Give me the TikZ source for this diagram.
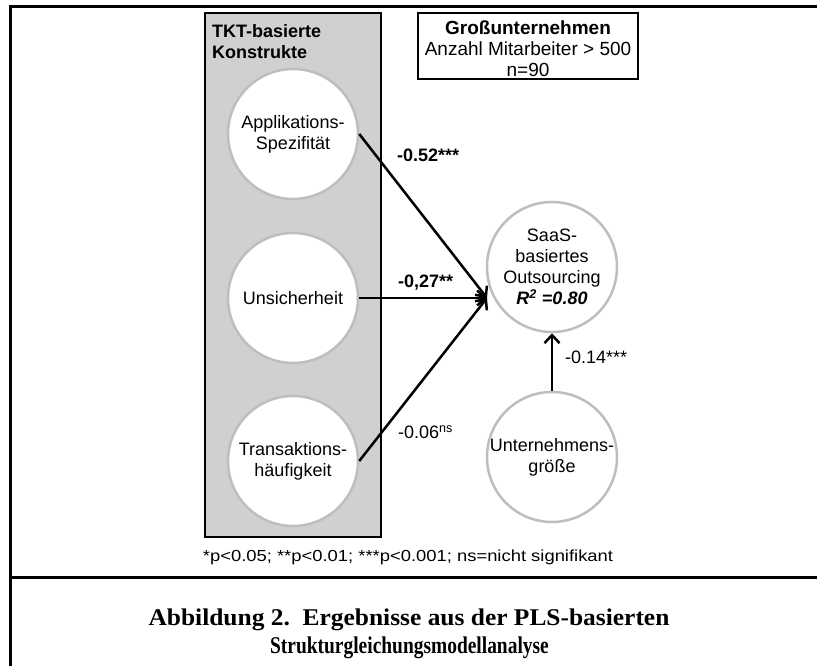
\documentclass[tikz,border=0pt]{standalone}
\usepackage{fontspec}
\setmainfont{Liberation Sans}
\newfontfamily\capfont{Liberation Serif}
\usetikzlibrary{arrows.meta}
\definecolor{boxgray}{RGB}{208,208,208}
\definecolor{ringgray}{RGB}{190,190,190}
\begin{document}
\begin{tikzpicture}[x=1pt,y=-1pt,
  construct/.style={circle, draw=ringgray, line width=2.5pt, fill=white,
    minimum size=130pt, inner sep=0pt, align=center,
    font=\fontsize{18}{21}\selectfont},
  effect/.style={line width=2.5pt,
    -{Straight Barb[length=8pt,width=15pt,line width=2.5pt]}},
  coef/.style={anchor=west, inner sep=0pt, font=\fontsize{18}{21}\selectfont},
  capline/.style={inner sep=0pt, font=\capfont\bfseries\fontsize{24}{28}\selectfont},
  frameline/.style={line width=3pt, black}]
\useasboundingbox (0,0) rectangle (817,666);
\fill[white] (0,0) rectangle (817,666);
% outer frame
\draw[frameline] (10.5,666) -- (10.5,7) -- (817,7);
\draw[frameline] (10.5,577) -- (817,577);
% grey group box
\draw[fill=boxgray, draw=black, line width=1.2pt] (205,13) rectangle (381,537);
\node[anchor=north west, inner sep=0pt, align=left,
  font=\fontsize{18}{21}\selectfont\bfseries] (grp) at (212,24) {TKT-basierte\\Konstrukte};
% sample box
\node[draw=black, line width=1.2pt, minimum width=220pt, minimum height=66pt,
  inner sep=0pt] (sample) at (528,46) {};
\node[align=center, inner sep=0pt, font=\fontsize{19}{21}\selectfont] (sampletext) at (528,49)
  {\textbf{Großunternehmen}\\Anzahl Mitarbeiter > 500\\n=90};
% constructs
\node[construct] (app) at (293,134) {Applikations-\\Spezifität};
\node[construct] (uns) at (293,298) {Unsicherheit};
\node[construct] (tra) at (293,461) {Transaktions-\\häufigkeit};
\node[construct] (saas) at (552,267) {SaaS-\\basiertes\\Outsourcing\\\textbf{\textit{R\textsuperscript{2} =0.80}}};
\node[construct] (size) at (552,457) {Unternehmens-\\größe};
\coordinate (conv) at (487,298);
% effects
\draw[effect] (app.east) -- (conv);
\draw[effect] (uns.east) -- (conv);
\draw[effect] (tra.east) -- (conv);
\draw[effect] (size.north) -- (saas.south);
% coefficients
\node[coef] (c1) at (397,155) {\textbf{-0.52***}};
\node[coef] (c2) at (398,283) {\textbf{-0,27**}};
\node[coef] (c3) at (398,432) {-0.06\textsuperscript{ns}};
\node[coef] (c4) at (565,357) {-0.14***};
% footnote
\node[inner sep=0pt, font=\fontsize{16}{18}\selectfont] (note) at (408,557)
  {\scalebox{1.15}[1]{*p<0.05; **p<0.01; ***p<0.001; ns=nicht signifikant}};
% caption
\node[capline] (cap1) at (409,620)
  {\scalebox{1.06}[1]{Abbildung 2.\ \ Ergebnisse aus der PLS-basierten}};
\node[capline] (cap2) at (409.5,648)
  {\scalebox{0.81}[1]{Strukturgleichungsmodellanalyse}};
\end{tikzpicture}
\end{document}
